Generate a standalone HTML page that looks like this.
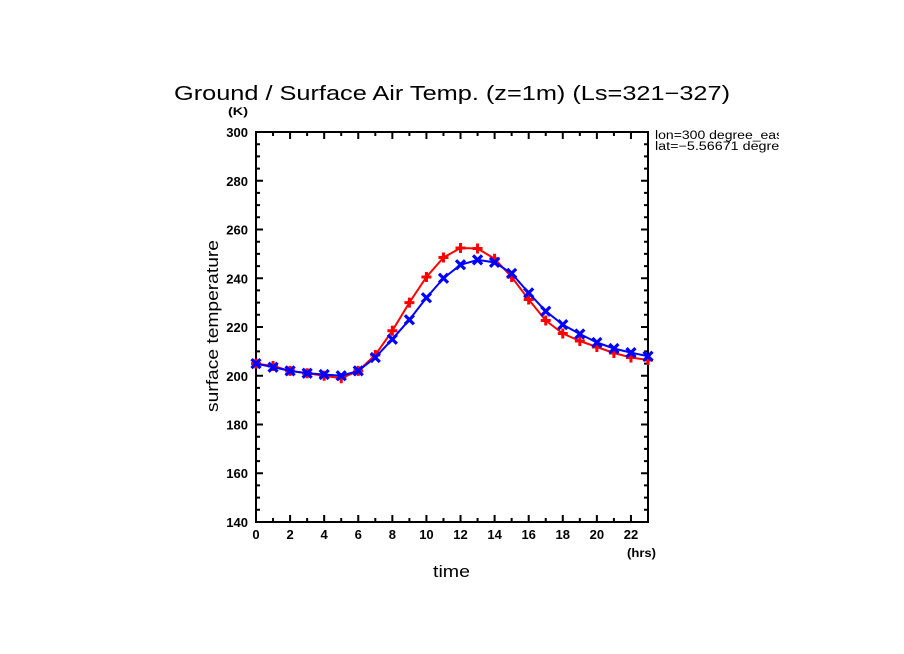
<!DOCTYPE html>
<html>
<head>
<meta charset="utf-8">
<style>
  html, body { margin: 0; padding: 0; background: #fff; }
  svg { display: block; }
  text { font-family: "Liberation Sans", "DejaVu Sans", sans-serif; fill: #000; }
  .tk { font-size: 13px; font-weight: bold; }
</style>
</head>
<body>
<svg width="904" height="654" viewBox="0 0 904 654" xmlns="http://www.w3.org/2000/svg">
  <rect x="0" y="0" width="904" height="654" fill="#fff"/>
  <defs>
    <clipPath id="rc"><rect x="650" y="120" width="129" height="40"/></clipPath>
  </defs>

  <!-- Title -->
  <text x="174" y="100" font-size="20" textLength="556" lengthAdjust="spacingAndGlyphs">Ground / Surface Air Temp. (z=1m) (Ls=321−327)</text>

  <!-- Units -->
  <text x="228" y="115" font-size="11" font-weight="bold" textLength="20" lengthAdjust="spacingAndGlyphs">(K)</text>
  <text x="627" y="557" font-size="12" font-weight="bold" textLength="29" lengthAdjust="spacingAndGlyphs">(hrs)</text>

  <!-- Right info text -->
  <g clip-path="url(#rc)">
    <text x="655" y="139" font-size="11.5" textLength="132" lengthAdjust="spacingAndGlyphs">lon=300 degree_east</text>
    <text x="655" y="150" font-size="11.5" textLength="180" lengthAdjust="spacingAndGlyphs">lat=−5.56671 degrees_north</text>
  </g>

  <!-- Axis labels -->
  <text x="433" y="577" font-size="17" textLength="37" lengthAdjust="spacingAndGlyphs">time</text>
  <text transform="translate(218,412) rotate(-90)" x="0" y="0" font-size="17" textLength="172" lengthAdjust="spacingAndGlyphs">surface temperature</text>

  <!-- Frame -->
  <rect x="256" y="132" width="392" height="390" fill="none" stroke="#000" stroke-width="2"/>

  <!-- Ticks -->
  <g stroke="#000" stroke-width="2">
    <path d="
      M256,522h7 M256,509.8h4 M256,497.6h4 M256,485.4h4
      M256,473.25h7 M256,461.1h4 M256,448.9h4 M256,436.7h4
      M256,424.5h7 M256,412.3h4 M256,400.1h4 M256,387.9h4
      M256,375.75h7 M256,363.6h4 M256,351.4h4 M256,339.2h4
      M256,327h7 M256,314.8h4 M256,302.6h4 M256,290.4h4
      M256,278.25h7 M256,266.1h4 M256,253.9h4 M256,241.7h4
      M256,229.5h7 M256,217.3h4 M256,205.1h4 M256,192.9h4
      M256,180.75h7 M256,168.6h4 M256,156.4h4 M256,144.2h4
      M256,132h7
      M648,522h-7 M648,509.8h-4 M648,497.6h-4 M648,485.4h-4
      M648,473.25h-7 M648,461.1h-4 M648,448.9h-4 M648,436.7h-4
      M648,424.5h-7 M648,412.3h-4 M648,400.1h-4 M648,387.9h-4
      M648,375.75h-7 M648,363.6h-4 M648,351.4h-4 M648,339.2h-4
      M648,327h-7 M648,314.8h-4 M648,302.6h-4 M648,290.4h-4
      M648,278.25h-7 M648,266.1h-4 M648,253.9h-4 M648,241.7h-4
      M648,229.5h-7 M648,217.3h-4 M648,205.1h-4 M648,192.9h-4
      M648,180.75h-7 M648,168.6h-4 M648,156.4h-4 M648,144.2h-4
      M648,132h-7
    "/>
    <path d="
      M273.04,522v-4 M290.09,522v-7 M307.13,522v-4 M324.17,522v-7 M341.22,522v-4 M358.26,522v-7
      M375.3,522v-4 M392.35,522v-7 M409.39,522v-4 M426.43,522v-7 M443.48,522v-4 M460.52,522v-7
      M477.57,522v-4 M494.61,522v-7 M511.65,522v-4 M528.7,522v-7 M545.74,522v-4 M562.78,522v-7
      M579.83,522v-4 M596.87,522v-7 M613.91,522v-4 M630.96,522v-7
      M273.04,132v4 M290.09,132v7 M307.13,132v4 M324.17,132v7 M341.22,132v4 M358.26,132v7
      M375.3,132v4 M392.35,132v7 M409.39,132v4 M426.43,132v7 M443.48,132v4 M460.52,132v7
      M477.57,132v4 M494.61,132v7 M511.65,132v4 M528.7,132v7 M545.74,132v4 M562.78,132v7
      M579.83,132v4 M596.87,132v7 M613.91,132v4 M630.96,132v7
    "/>
  </g>

  <!-- Y tick labels -->
  <g class="tk" text-anchor="end">
    <text x="248" y="527">140</text>
    <text x="248" y="478">160</text>
    <text x="248" y="429.5">180</text>
    <text x="248" y="381">200</text>
    <text x="248" y="332">220</text>
    <text x="248" y="283.5">240</text>
    <text x="248" y="234.5">260</text>
    <text x="248" y="186">280</text>
    <text x="248" y="137">300</text>
  </g>
  <!-- X tick labels -->
  <g class="tk" text-anchor="middle">
    <text x="256" y="539">0</text>
    <text x="290.09" y="539">2</text>
    <text x="324.17" y="539">4</text>
    <text x="358.26" y="539">6</text>
    <text x="392.35" y="539">8</text>
    <text x="426.43" y="539">10</text>
    <text x="460.52" y="539">12</text>
    <text x="494.61" y="539">14</text>
    <text x="528.7" y="539">16</text>
    <text x="562.78" y="539">18</text>
    <text x="596.87" y="539">20</text>
    <text x="630.96" y="539">22</text>
  </g>

  <!-- Red series -->
  <polyline fill="none" stroke="#ff0000" stroke-width="2" stroke-linejoin="round"
    points="256,363.6 273.04,366 290.09,370.9 307.13,373.3 324.17,375.75 341.22,378.2 358.26,370.9 375.3,355 392.35,330.7 409.39,302.6 426.43,277 443.48,257.5 460.52,248 477.57,248.5 494.61,258.75 511.65,277 528.7,299.5 545.74,320.5 562.78,333.5 579.83,341 596.87,347 613.91,353 630.96,357.5 648,360"/>
  <g stroke="#ff0000" stroke-width="3" fill="none">
    <path d="
      M251,363.6h10M256,358.6v10
      M268.04,366h10M273.04,361v10
      M285.09,370.9h10M290.09,365.9v10
      M302.13,373.3h10M307.13,368.3v10
      M319.17,375.75h10M324.17,370.75v10
      M336.22,378.2h10M341.22,373.2v10
      M353.26,370.9h10M358.26,365.9v10
      M370.3,355h10M375.3,350v10
      M387.35,330.7h10M392.35,325.7v10
      M404.39,302.6h10M409.39,297.6v10
      M421.43,277h10M426.43,272v10
      M438.48,257.5h10M443.48,252.5v10
      M455.52,248h10M460.52,243v10
      M472.57,248.5h10M477.57,243.5v10
      M489.61,258.75h10M494.61,253.75v10
      M506.65,277h10M511.65,272v10
      M523.7,299.5h10M528.7,294.5v10
      M540.74,320.5h10M545.74,315.5v10
      M557.78,333.5h10M562.78,328.5v10
      M574.83,341h10M579.83,336v10
      M591.87,347h10M596.87,342v10
      M608.91,353h10M613.91,348v10
      M625.96,357.5h10M630.96,352.5v10
      M643,360h10M648,355v10
    "/>
  </g>

  <!-- Blue series -->
  <polyline fill="none" stroke="#0000ff" stroke-width="2" stroke-linejoin="round"
    points="256,363.6 273.04,367.2 290.09,370.9 307.13,373.3 324.17,374.5 341.22,375.75 358.26,370.9 375.3,357.5 392.35,339.2 409.39,319.7 426.43,297.75 443.48,278.25 460.52,264.8 477.57,259.9 494.61,262.4 511.65,273.4 528.7,292.9 545.74,311.2 562.78,324.6 579.83,334 596.87,342.5 613.91,348.5 630.96,352.6 648,356.25"/>
  <g stroke="#0000ff" stroke-width="3.2" fill="none">
    <path d="
      M251.5,359.1l9,9M251.5,368.1l9,-9
      M268.54,362.7l9,9M268.54,371.7l9,-9
      M285.59,366.4l9,9M285.59,375.4l9,-9
      M302.63,368.8l9,9M302.63,377.8l9,-9
      M319.67,370l9,9M319.67,379l9,-9
      M336.72,371.25l9,9M336.72,380.25l9,-9
      M353.76,366.4l9,9M353.76,375.4l9,-9
      M370.8,353l9,9M370.8,362l9,-9
      M387.85,334.7l9,9M387.85,343.7l9,-9
      M404.89,315.2l9,9M404.89,324.2l9,-9
      M421.93,293.25l9,9M421.93,302.25l9,-9
      M438.98,273.75l9,9M438.98,282.75l9,-9
      M456.02,260.3l9,9M456.02,269.3l9,-9
      M473.07,255.4l9,9M473.07,264.4l9,-9
      M490.11,257.9l9,9M490.11,266.9l9,-9
      M507.15,268.9l9,9M507.15,277.9l9,-9
      M524.2,288.4l9,9M524.2,297.4l9,-9
      M541.24,306.7l9,9M541.24,315.7l9,-9
      M558.28,320.1l9,9M558.28,329.1l9,-9
      M575.33,329.5l9,9M575.33,338.5l9,-9
      M592.37,338l9,9M592.37,347l9,-9
      M609.41,344l9,9M609.41,353l9,-9
      M626.46,348.1l9,9M626.46,357.1l9,-9
      M643.5,351.75l9,9M643.5,360.75l9,-9
    "/>
  </g>
</svg>
</body>
</html>
